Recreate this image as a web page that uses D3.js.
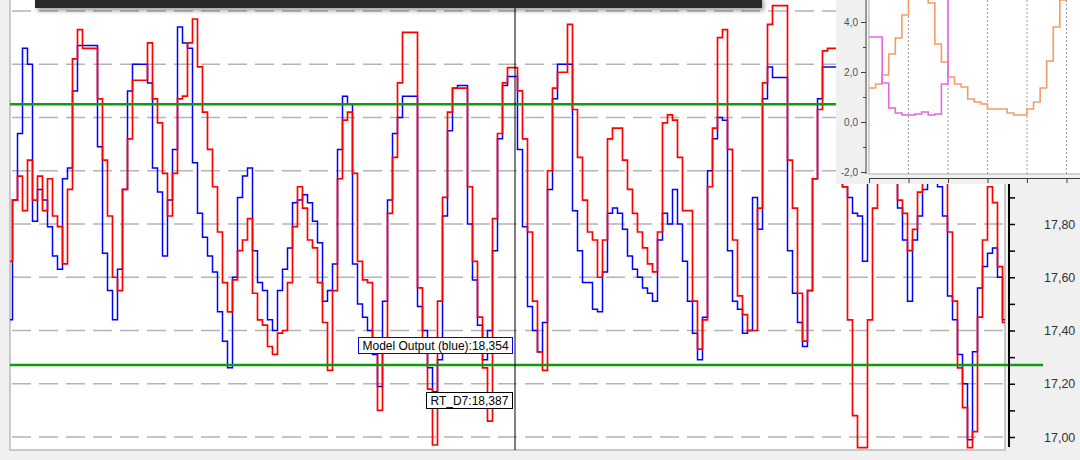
<!DOCTYPE html>
<html>
<head>
<meta charset="utf-8">
<script src="https://cdn.jsdelivr.net/npm/d3@7"></script>
<style>
  html, body { margin: 0; padding: 0; background: #f0f0f0; }
  svg { display: block; font-family: "Liberation Sans", Arial, sans-serif; }
</style>
</head>
<body>
<svg id="chart" width="1080" height="460"></svg>
<script>
// one reading every sample, in the chart's own units
const modelOutput = [
  17.44, 17.89, 18.14, 18.46, 18.40, 17.81, 17.93, 17.89, 17.79, 17.68,
  17.63, 17.97, 18.01, 18.30, 18.47, 18.47, 18.47, 18.47, 18.09, 17.69,
  17.55, 17.44, 17.63, 17.93, 18.30, 18.40, 18.40, 18.40, 18.33, 18.01,
  17.92, 17.68, 17.89, 18.08, 18.54, 18.48, 18.46, 18.03, 17.84, 17.75,
  17.68, 17.62, 17.47, 17.36, 17.26, 17.60, 17.90, 17.98, 18.01, 17.70,
  17.58, 17.55, 17.44, 17.40, 17.55, 17.63, 17.71, 17.88, 17.89, 17.91,
  17.88, 17.81, 17.73, 17.51, 17.55, 17.65, 18.08, 18.28, 18.25, 17.65,
  17.50, 17.45, 17.40, 17.31, 17.19, 17.51, 17.89, 18.14, 18.20, 18.28,
  18.28, 18.28, 17.49, 17.40, 17.26, 17.17, 17.29, 17.83, 18.15, 18.31,
  18.32, 18.32, 17.80, 17.59, 17.42, 17.29, 17.40, 17.70, 18.12, 18.32,
  18.354, 18.354, 18.08, 17.79, 17.49, 17.40, 17.32, 17.43, 17.93, 18.27,
  18.40, 18.40, 18.40, 17.85, 17.70, 17.58, 17.58, 17.48, 17.47, 17.62,
  17.84, 17.86, 17.84, 17.78, 17.68, 17.63, 17.60, 17.56, 17.54, 17.51,
  17.74, 17.84, 17.80, 17.93, 17.80, 17.66, 17.51, 17.39, 17.29, 17.45,
  18.00, 18.12, 18.20, 18.19, 17.70, 17.51, 17.48, 17.39, 17.40, 17.90,
  17.78, 18.27, 18.39, 18.35, 18.35, 18.35, 17.70, 17.54, 17.43, 17.34,
  17.55, 17.97, 18.27, 18.39, 18.39, 18.39, 18.12, 17.94, 17.90, 17.84,
  17.83, 17.66, 18.12, 18.23, 18.27, 18.23, 18.12, 17.98, 17.86, 17.74,
  17.51, 17.74, 17.83, 17.93, 18.08, 18.12, 17.94, 17.83, 17.53, 17.44,
  17.31, 17.20, 16.99, 17.32, 17.56, 17.64, 17.69, 17.71, 17.60, 17.44
];

const rtD7 = [
  17.66, 17.89, 17.98, 17.85, 18.04, 17.89, 17.98, 17.85, 17.97, 17.83,
  17.79, 17.65, 17.93, 18.42, 18.53, 18.46, 18.46, 18.46, 18.27, 18.04,
  17.83, 17.60, 17.55, 17.93, 18.12, 18.34, 18.34, 18.34, 18.48, 18.27,
  18.18, 17.99, 17.83, 17.99, 18.27, 18.28, 18.48, 18.57, 18.39, 18.22,
  18.08, 17.94, 17.77, 17.58, 17.47, 17.59, 17.70, 17.74, 17.82, 17.54,
  17.44, 17.42, 17.34, 17.31, 17.39, 17.40, 17.58, 17.79, 17.94, 17.86,
  17.74, 17.71, 17.58, 17.43, 17.25, 17.55, 17.97, 18.19, 18.22, 17.99,
  17.66, 17.59, 17.58, 17.33, 17.10, 17.36, 17.84, 18.05, 18.33, 18.52,
  18.52, 18.52, 17.56, 17.36, 17.18, 16.97, 17.51, 17.90, 18.22, 18.31,
  18.31, 18.31, 17.94, 17.66, 17.45, 17.26, 17.06, 17.82, 18.14, 18.33,
  18.387, 18.387, 18.30, 18.12, 17.77, 17.51, 17.32, 17.25, 18.00, 18.31,
  18.37, 18.37, 18.55, 18.23, 18.05, 17.89, 17.77, 17.74, 17.60, 17.74,
  18.12, 18.16, 18.16, 18.04, 17.93, 17.84, 17.77, 17.71, 17.65, 17.62,
  17.77, 18.18, 18.21, 18.19, 18.05, 17.85, 17.85, 17.51, 17.33, 17.44,
  17.94, 18.16, 18.50, 18.53, 18.08, 17.74, 17.53, 17.46, 17.40, 17.40,
  17.86, 18.33, 18.55, 18.62, 18.62, 18.62, 18.04, 17.86, 17.54, 17.36,
  17.55, 17.97, 18.23, 18.45, 18.46, 18.46, 18.27, 17.94, 17.44, 17.08,
  16.96, 16.96, 17.44, 17.86, 18.08, 18.19, 18.15, 18.00, 17.89, 17.84,
  17.70, 17.78, 17.92, 18.08, 18.19, 18.23, 18.15, 18.00, 17.77, 17.51,
  17.26, 17.11, 16.96, 17.02, 17.45, 17.74, 17.94, 17.88, 17.64, 17.43
];

const limits = [17.27, 18.25];
const gridValues = [17.0, 17.2, 17.4, 17.6, 17.8, 18.0, 18.2, 18.4, 18.6];
const axisTicks = [17.0, 17.1, 17.2, 17.3, 17.4, 17.5, 17.6, 17.7, 17.8, 17.9,
  18.0, 18.1, 18.2, 18.3, 18.4, 18.5, 18.6];
const cursorIndex = 101;

// small chart in the corner
const insetOrange = [1.36, 1.52, 1.88, 2.72, 3.36, 4.28, 5.2, 5.6, 5.4, 4.76, 3.12,
  2.4, 1.8, 1.52, 1.4, 0.92, 0.8, 0.72, 0.52, 0.52, 0.52, 0.36, 0.28, 0.28, 0.52,
  0.8, 1.36, 2.44, 3.8, 4.88, 4.95, 4.95, 4.95];
const insetViolet = [3.4, 3.4, 1.56, 0.56, 0.36, 0.28, 0.28, 0.32, 0.4, 0.28, 0.32,
  1.52, 5.5, 5.5];
const insetTicks = [-2, -1, 0, 1, 2, 3, 4];
const insetSteps = [0, 6, 12, 18, 24, 30];

const svg = d3.select('#chart');
const width = +svg.attr('width');
const height = +svg.attr('height');

const plot = { left: 10, right: 1005, top: 0, bottom: 450 };

const x = d3.scaleLinear()
  .domain([0, modelOutput.length - 1])
  .range([plot.left, plot.right]);
const y = d3.scaleLinear()
  .domain([17, 18.6])
  .range([437, 11]);

const loc = d3.formatLocale({
  decimal: ',', thousands: '.', grouping: [3], currency: ['', ''], minus: '-'
});

const defs = svg.append('defs');
defs.append('clipPath').attr('id', 'plot-clip')
  .append('rect')
  .attr('x', plot.left).attr('y', plot.top)
  .attr('width', plot.right - plot.left).attr('height', plot.bottom - plot.top);

const shadow = defs.append('filter').attr('id', 'shadow')
  .attr('x', '-5%').attr('y', '-50%').attr('width', '110%').attr('height', '300%');
shadow.append('feDropShadow')
  .attr('dx', 2).attr('dy', 3).attr('stdDeviation', 2)
  .attr('flood-color', '#000').attr('flood-opacity', 0.35);

svg.append('rect')
  .attr('width', width).attr('height', height)
  .attr('fill', '#f0f0f0');

// plot area
svg.append('rect')
  .attr('x', plot.left).attr('y', -2)
  .attr('width', plot.right - plot.left).attr('height', plot.bottom + 2)
  .attr('fill', '#fff')
  .attr('stroke', '#b9b9b9')
  .attr('stroke-width', 1.5);

svg.append('g')
  .attr('class', 'grid')
  .selectAll('line')
  .data(gridValues)
  .join('line')
  .attr('x1', plot.left + 2)
  .attr('x2', plot.right)
  .attr('y1', d => y(d))
  .attr('y2', d => y(d))
  .attr('stroke', '#b4b4b4')
  .attr('stroke-width', 1.5)
  .attr('stroke-dasharray', '19,8');

// readings are held around each sample, like the logger draws them
const line = d3.line()
  .x((d, i) => x(i))
  .y(d => y(d))
  .curve(d3.curveStep);

const series = svg.append('g').attr('clip-path', 'url(#plot-clip)');

series.append('path')
  .datum(modelOutput)
  .attr('fill', 'none')
  .attr('stroke', '#0000ff')
  .attr('stroke-width', 1.5)
  .attr('d', line);

series.append('path')
  .datum(rtD7)
  .attr('fill', 'none')
  .attr('stroke', '#ff0000')
  .attr('stroke-width', 1.7)
  .attr('d', line);

// limit lines
svg.append('g')
  .selectAll('line')
  .data(limits)
  .join('line')
  .attr('x1', plot.left)
  .attr('x2', 1043)
  .attr('y1', d => y(d))
  .attr('y2', d => y(d))
  .attr('stroke', '#0f9a0f')
  .attr('stroke-width', 2.5);

// cursor
const cursorX = x(cursorIndex);
svg.append('line')
  .attr('x1', cursorX).attr('x2', cursorX)
  .attr('y1', 0).attr('y2', plot.bottom)
  .attr('stroke', '#000')
  .attr('stroke-width', 1);

const tips = [
  { label: 'Model Output (blue)', value: modelOutput[cursorIndex], border: '#0000ff', top: 337 },
  { label: 'RT_D7', value: rtD7[cursorIndex], border: '#000000', top: 392 }
];

tips.forEach(t => {
  const g = svg.append('g');
  const txt = g.append('text')
    .attr('font-size', 12)
    .attr('fill', '#000')
    .text(t.label + ':' + loc.format('.3f')(t.value));
  const w = txt.node().getComputedTextLength() + 8;
  const left = Math.round(cursorX - 3 - w);
  g.insert('rect', 'text')
    .attr('x', left + 0.5).attr('y', t.top + 0.5)
    .attr('width', Math.round(w)).attr('height', 16)
    .attr('fill', '#fff')
    .attr('stroke', t.border)
    .attr('stroke-width', 1);
  txt.attr('x', left + 4.5).attr('y', t.top + 13);
});

// right axis
const yAxis = d3.axisRight(y)
  .tickValues(axisTicks)
  .tickSize(6)
  .tickPadding(29)
  .tickFormat(d => Math.round(d * 10) % 2 === 0 ? loc.format('.2f')(d) : '');

const ga = svg.append('g')
  .attr('transform', 'translate(1009,0)')
  .call(yAxis);
ga.select('.domain').remove();
ga.selectAll('.tick line').attr('stroke', '#000').attr('stroke-width', 1.5);
ga.selectAll('.tick text')
  .attr('font-size', 12.5)
  .attr('font-family', '"Liberation Sans", Arial, sans-serif')
  .attr('fill', '#333');
ga.append('line')
  .attr('x1', 0).attr('x2', 0)
  .attr('y1', 0).attr('y2', 447)
  .attr('stroke', '#000')
  .attr('stroke-width', 2);

// dark bar at the top
svg.append('rect')
  .attr('x', 35).attr('y', -4)
  .attr('width', 727).attr('height', 12)
  .attr('fill', '#2b2b2b')
  .attr('filter', 'url(#shadow)');

// inset chart
const inset = svg.append('g').attr('class', 'inset');
const ip = { left: 869, right: 1080, top: 0, bottom: 174 };

defs.append('clipPath').attr('id', 'inset-clip')
  .append('rect')
  .attr('x', ip.left).attr('y', ip.top)
  .attr('width', ip.right - ip.left).attr('height', ip.bottom - ip.top);

const xi = d3.scaleLinear().domain([0, 32]).range([869, 1079.6]);
const yi = d3.scaleLinear().domain([-2, 4]).range([172, 22]);

inset.append('rect')
  .attr('x', 836).attr('y', 0)
  .attr('width', 244).attr('height', 184)
  .attr('fill', '#f0f0f0');

inset.append('rect')
  .attr('x', ip.left).attr('y', -2)
  .attr('width', ip.right - ip.left + 2).attr('height', ip.bottom + 2)
  .attr('fill', '#fff')
  .attr('stroke', '#c8c8c8')
  .attr('stroke-width', 1.5);

inset.append('g')
  .selectAll('line')
  .data(insetSteps.slice(1))
  .join('line')
  .attr('x1', d => xi(d)).attr('x2', d => xi(d))
  .attr('y1', 0).attr('y2', ip.bottom)
  .attr('stroke', '#9a9a9a')
  .attr('stroke-dasharray', '2,2');

const iline = d3.line()
  .x((d, i) => xi(i))
  .y(d => yi(d))
  .curve(d3.curveStepAfter);

const iseries = inset.append('g').attr('clip-path', 'url(#inset-clip)');
iseries.append('path')
  .datum(insetOrange)
  .attr('fill', 'none')
  .attr('stroke', '#f79a62')
  .attr('stroke-width', 1.6)
  .attr('d', iline);
iseries.append('path')
  .datum(insetViolet)
  .attr('fill', 'none')
  .attr('stroke', '#e664e6')
  .attr('stroke-width', 1.6)
  .attr('d', iline);

const iyAxis = d3.axisLeft(yi)
  .tickValues(insetTicks)
  .tickSize(5)
  .tickPadding(3)
  .tickFormat(d => d % 2 === 0 ? loc.format('.1f')(d) : '');

const giy = inset.append('g')
  .attr('transform', 'translate(866,0)')
  .call(iyAxis);
giy.select('.domain').remove();
giy.selectAll('.tick line')
  .attr('stroke', '#404040')
  .attr('x2', d => d % 2 === 0 ? -5 : -3);
giy.selectAll('.tick text')
  .attr('font-size', 10)
  .attr('font-family', '"Liberation Sans", Arial, sans-serif')
  .attr('fill', '#505050');
giy.append('line')
  .attr('x1', 0).attr('x2', 0)
  .attr('y1', 0).attr('y2', ip.bottom)
  .attr('stroke', '#404040');

const ixAxis = d3.axisBottom(xi)
  .tickValues(insetSteps)
  .tickSize(5)
  .tickSizeOuter(0)
  .tickFormat('');

const gix = inset.append('g')
  .attr('transform', 'translate(0,178)')
  .call(ixAxis);
gix.select('.domain').attr('stroke', '#404040');
gix.selectAll('.tick line').attr('stroke', '#404040');
</script>
</body>
</html>
